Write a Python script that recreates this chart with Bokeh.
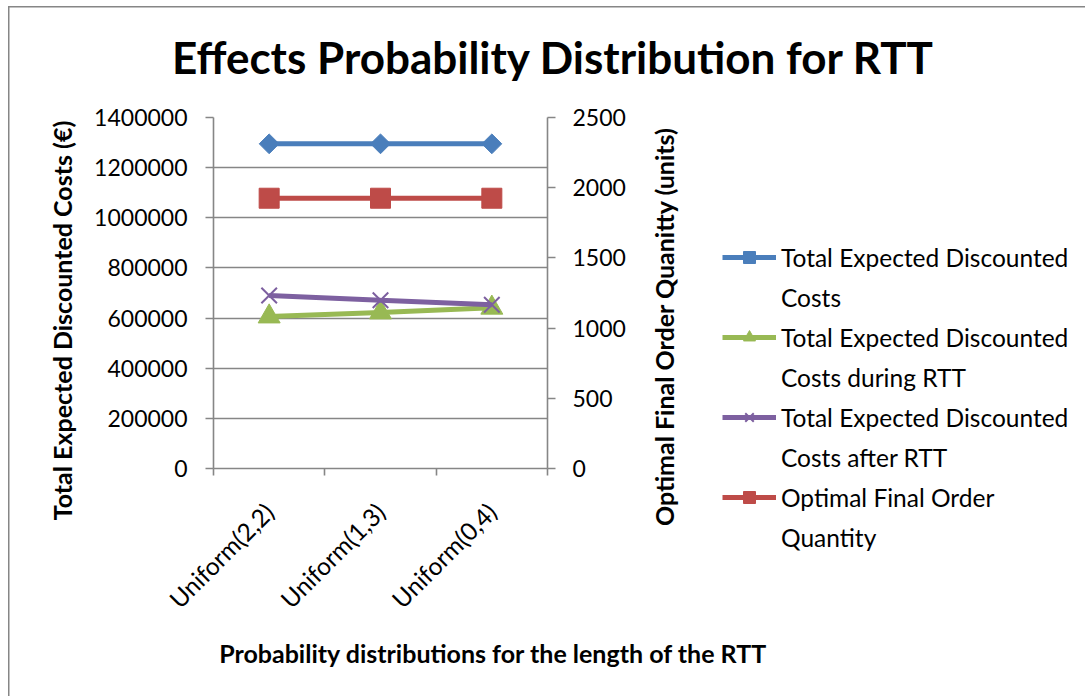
from math import pi

from bokeh.embed import file_html
from bokeh.layouts import column, row
from bokeh.models import (CategoricalAxis, FactorRange, FixedTicker, Grid, Label,
                          Legend, LegendItem, LinearAxis, NumeralTickFormatter, Range1d)
from bokeh.plotting import figure
from bokeh.resources import INLINE

# ---- data -------------------------------------------------------------
categories = ["Uniform(2,2)", "Uniform(1,3)", "Uniform(0,4)"]
total_costs = [1295000, 1295000, 1295000]
costs_during_rtt = [606000, 622000, 641000]
costs_after_rtt = [690000, 671000, 653000]
optimal_quantity = [1925, 1925, 1925]

cost_ticks = [0, 200000, 400000, 600000, 800000, 1000000, 1200000, 1400000]
qty_ticks = [0, 500, 1000, 1500, 2000, 2500]

# legend text, one entry per printed line
series_labels = [
    ("Total Expected Discounted", "Costs"),
    ("Total Expected Discounted", "Costs during RTT"),
    ("Total Expected Discounted", "Costs after RTT"),
    ("Optimal Final Order", "Quantity"),
]

chart_title = "Effects Probability Distribution for RTT"
cost_axis_title = "Total Expected Discounted Costs (€)"
qty_axis_title = "Optimal Final Order Quanitty (units)"
x_axis_title = "Probability distributions for the length of the RTT"

# ---- style ------------------------------------------------------------
FONT = "Lato"
GRAY = "#868686"
BLUE, GREEN, PURPLE, RED = "#4A7EBB", "#98B954", "#7D60A0", "#BE4B48"
SERIES_STYLE = [
    dict(color=BLUE, marker="square", angle=pi / 4, size=14),
    dict(color=GREEN, marker="triangle", angle=0, size=22),
    dict(color=PURPLE, marker="x", angle=0, size=22),
    dict(color=RED, marker="square", angle=0, size=20),
]


def text_panel(width, height):
    """A bare canvas whose frame fills it, used to hold titles and the legend."""
    f = figure(width=width, height=height, min_border=0,
               x_range=FactorRange(*categories), y_range=Range1d(cost_ticks[0], cost_ticks[-1]),
               x_axis_location=None, y_axis_location=None,
               output_backend="svg", toolbar_location=None)
    f.frame_align = False
    f.outline_line_color = None
    f.border_fill_color = None
    f.background_fill_color = None
    for g in f.grid:
        g.visible = False
    return f


def title_label(text, x, y, size, angle=0.0):
    return Label(x=x, y=y, x_units="screen", y_units="screen", angle=angle, text=text,
                 text_font=FONT, text_font_style="bold", text_font_size=size,
                 text_color="black", text_align="center", text_baseline="middle")


# ---- main chart -------------------------------------------------------
p = figure(
    width=550, height=536,
    x_range=FactorRange(*categories, range_padding=0),
    y_range=Range1d(cost_ticks[0], cost_ticks[-1]),
    x_axis_location=None, y_axis_location=None,
    min_border_left=123, min_border_right=93, min_border_top=15, min_border_bottom=170,
    output_backend="svg", toolbar_location=None,
)
p.frame_align = False
p.outline_line_color = None
p.border_fill_color = None
p.background_fill_color = "white"
for g in p.grid:
    g.visible = False

p.extra_y_ranges = {"qty": Range1d(qty_ticks[0], qty_ticks[-1])}

# horizontal gridlines on the cost scale
p.add_layout(Grid(dimension=1, ticker=FixedTicker(ticks=cost_ticks),
                  grid_line_color=GRAY, grid_line_width=1.6))


def style_axis(ax):
    ax.axis_line_color = GRAY
    ax.axis_line_width = 1.6
    ax.major_tick_line_color = GRAY
    ax.major_tick_line_width = 1.6
    ax.major_tick_out = 8
    ax.major_tick_in = 0
    ax.minor_tick_line_color = None
    ax.major_label_text_font = FONT
    ax.major_label_text_font_size = "23px"
    ax.major_label_text_color = "black"


left_axis = LinearAxis(ticker=FixedTicker(ticks=cost_ticks),
                       formatter=NumeralTickFormatter(format="0"))
style_axis(left_axis)
left_axis.major_label_standoff = 18
p.add_layout(left_axis, "left")

right_axis = LinearAxis(y_range_name="qty", ticker=FixedTicker(ticks=qty_ticks))
style_axis(right_axis)
right_axis.major_label_standoff = 17
p.add_layout(right_axis, "right")

# tick marks on the category boundaries (synthetic positions 0..n)
boundaries = list(range(len(categories) + 1))
boundary_axis = LinearAxis(ticker=FixedTicker(ticks=boundaries))
style_axis(boundary_axis)
boundary_axis.major_tick_out = 7
boundary_axis.major_label_overrides = {b: "" for b in boundaries}
boundary_axis.major_label_standoff = 0
p.add_layout(boundary_axis, "below")

# category names under the category centres
cat_axis = CategoricalAxis()
style_axis(cat_axis)
cat_axis.axis_line_color = None
cat_axis.major_tick_line_color = None
cat_axis.major_label_orientation = pi / 4
cat_axis.major_label_text_font_size = "24.5px"
cat_axis.major_label_standoff = 24
p.add_layout(cat_axis, "below")

series_values = [total_costs, costs_during_rtt, costs_after_rtt, optimal_quantity]
series_ranges = ["default", "default", "default", "qty"]

for values, rng, st in zip(series_values, series_ranges, SERIES_STYLE):
    p.line(categories, values, line_color=st["color"], line_width=5, y_range_name=rng)
    p.scatter(categories, values, marker=st["marker"], angle=st["angle"], size=st["size"],
              fill_color=st["color"], line_color=st["color"],
              line_width=2 if st["marker"] == "x" else 1, y_range_name=rng)

# ---- surrounding text panels -------------------------------------------
top = text_panel(1085, 102)
top.add_layout(title_label(chart_title, 553, 46, "44px"))

left = text_panel(90, 536)
left.add_layout(title_label(cost_axis_title, 61, 318, "25px", angle=pi / 2))

side = text_panel(445, 536)
side.add_layout(title_label(qty_axis_title, 23, 312, "25px", angle=pi / 2))

# legend samples (hidden copies of the series, so only their legend swatches show)
items = []
blank = side.line(x=[], y=[], line_alpha=0)
for (first, second), values, st in zip(series_labels, series_values, SERIES_STYLE):
    ln = side.line(categories, values, line_color=st["color"], line_width=5, visible=False)
    mk = side.scatter(categories, values, marker=st["marker"], angle=st["angle"],
                      size=st["size"], fill_color=st["color"], line_color=st["color"],
                      line_width=2 if st["marker"] == "x" else 1, visible=False)
    items.append(LegendItem(label=first, renderers=[ln, mk]))
    items.append(LegendItem(label=second, renderers=[blank]))

legend = Legend(
    items=items, location=(82, 86), padding=0, margin=0,
    border_line_color=None, background_fill_alpha=0, inactive_fill_alpha=0,
    glyph_width=54, glyph_height=30, label_height=30, label_standoff=5, spacing=10,
    label_text_font=FONT, label_text_font_size="24.5px", label_text_color="black",
)
side.add_layout(legend)

bottom = text_panel(1085, 58)
bottom.add_layout(title_label(x_axis_title, 493, 44, "25px"))

page = column(top, row(left, p, side), bottom)
page.styles = {
    "background": (f"linear-gradient({GRAY},{GRAY}) 8px 6px / 1.5px 700px no-repeat, "
                   f"linear-gradient({GRAY},{GRAY}) 8px 6px / 1100px 1.5px no-repeat, white"),
}

open("out.html", "w").write(file_html(page, INLINE))
